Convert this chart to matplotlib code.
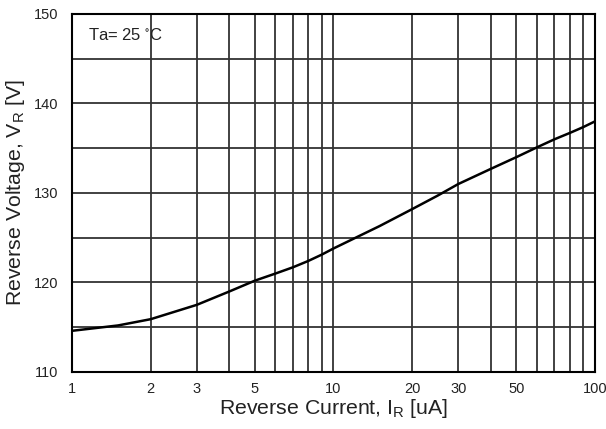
import matplotlib
matplotlib.use("Agg")
import matplotlib.pyplot as plt
from matplotlib.ticker import FixedLocator, FixedFormatter, NullFormatter

plt.rcParams['font.family'] = ['Liberation Sans', 'DejaVu Sans']
plt.rcParams['mathtext.default'] = 'regular'

current_uA = [1, 1.5, 2, 3, 4, 5, 6, 7, 8, 9, 10, 15, 20, 25, 30, 40, 50, 60, 70, 80, 90, 100]
voltage_V = [114.6, 115.2, 115.9, 117.5, 119.0, 120.2, 121.0, 121.7, 122.4, 123.1, 123.8,
             126.3, 128.2, 129.7, 131.0, 132.7, 134.0, 135.1, 136.0, 136.7, 137.35, 138.0]

xtick_vals = [1, 2, 3, 5, 10, 20, 30, 50, 100]
xtick_labels = ['1', '2', '3', '5', '10', '20', '30', '50', '100']
xgrid_vals = [1, 2, 3, 4, 5, 6, 7, 8, 9, 10, 20, 30, 40, 50, 60, 70, 80, 90, 100]
ytick_vals = [110, 120, 130, 140, 150]
ygrid_vals = [110, 115, 120, 125, 130, 135, 140, 145, 150]

fig = plt.figure(figsize=(6.06, 4.29), dpi=100)
ax = fig.add_axes([0.1188, 0.1329, 0.8630, 0.8345])

for xv in xgrid_vals:
    ax.axvline(xv, color='#333333', lw=1.3, zorder=1)
for yv in ygrid_vals:
    ax.axhline(yv, color='#333333', lw=1.3, zorder=1)

ax.plot(current_uA, voltage_V, color='black', lw=1.8, zorder=3, solid_capstyle='round')

ax.set_xscale('log')
ax.set_xlim(1, 100)
ax.set_ylim(110, 150)
ax.xaxis.set_major_locator(FixedLocator(xtick_vals))
ax.xaxis.set_major_formatter(FixedFormatter(xtick_labels))
ax.xaxis.set_minor_formatter(NullFormatter())
ax.xaxis.set_minor_locator(FixedLocator([]))
ax.set_yticks(ytick_vals)
ax.tick_params(axis='both', length=0, labelsize=10.5, colors='#222222')
ax.tick_params(axis='x', pad=7)
ax.tick_params(axis='y', pad=10)

for s in ax.spines.values():
    s.set_linewidth(1.5)
    s.set_color('black')

ax.set_xlabel('Reverse Current, I$_R$ [uA]', fontsize=15.3, labelpad=1, color='#222222')
ax.set_ylabel('Reverse Voltage, V$_R$ [V]', fontsize=15.3, labelpad=5, color='#222222')

ax.text(16 / 523, 1 - 26 / 358, 'Ta= 25 $^{\\circ}$C', transform=ax.transAxes, fontsize=12,
        va='baseline', ha='left', color='#222222')

fig.savefig('out.png', dpi=100)
